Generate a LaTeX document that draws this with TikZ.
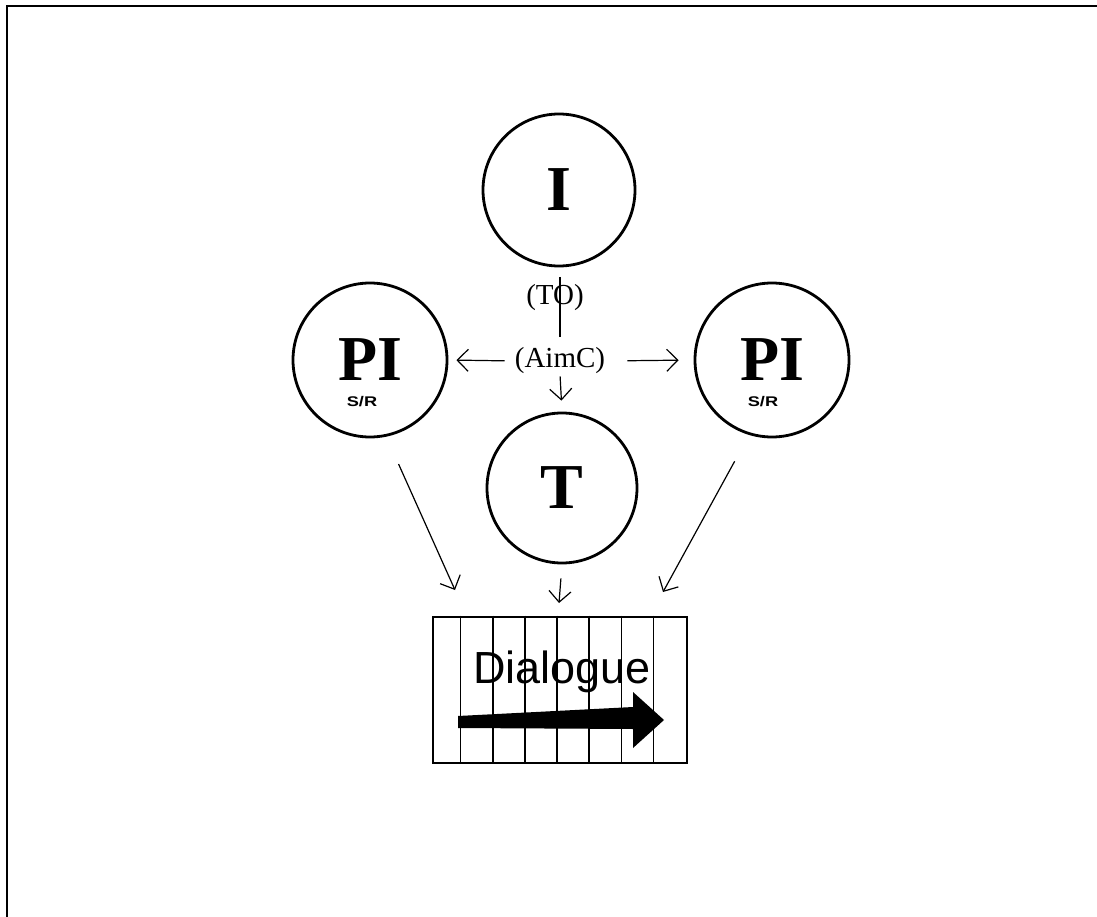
\documentclass[tikz,border=0pt]{standalone}
\usepackage{fontspec}
\setmainfont{Liberation Serif}
\newfontfamily\arialfont{Liberation Sans}
\usetikzlibrary{arrows.meta,calc}
\tikzset{
  bigcirc/.style={circle, draw, line width=2.8pt, minimum size=152pt, inner sep=0pt,
    font=\fontsize{64}{64}\selectfont\bfseries},
  sublabel/.style={inner sep=0pt, font=\arialfont\bfseries\fontsize{14}{14}\selectfont},
  midlabel/.style={inner sep=0pt, font=\fontsize{29}{29}\selectfont},
  conn/.style={line width=1.3pt},
  arr/.style={line width=1.2pt, -{Straight Barb[length=11pt,width=22pt,line width=1.2pt]}},
}
\begin{document}
\begin{tikzpicture}[x=1pt,y=-1pt]
\useasboundingbox (0,0) rectangle (1097,917);
% frame (top and left edges visible)
\draw[line width=2.2pt] (7,917) -- (7,6) -- (1097,6);

% circles
\node[bigcirc] (I) at (559,190) {I};
\node[bigcirc, minimum size=154pt] (PIL) at (370,360) {PI};
\node[bigcirc, minimum size=154pt] (PIR) at (772,360) {PI};
\node[bigcirc, minimum size=150pt] (T) at (562,488) {T};
\node[sublabel] (srL) at (362,402) {\scalebox{1.3}[1]{S/R}};
\node[sublabel] (srR) at (763,402) {\scalebox{1.3}[1]{S/R}};

% middle labels
\coordinate (toTop) at (560,277);
\coordinate (toBot) at (560,337);
\draw[conn] (toTop) -- (toBot);
\node[midlabel] (TO) at (555,298) {(TO)};
\node[midlabel] (aimc) at (560,361) {(AimC)};

% arrows from AimC
\draw[arr, shorten <=10pt, shorten >=8pt] (aimc.west) -- (PIL.east);
\draw[arr, shorten <=22pt, shorten >=15pt] (aimc.east) -- (PIR.west);
\draw[arr, shorten <=2pt, shorten >=11pt] (aimc.south) -- (T.north);

% dialogue box
\node[draw, line width=2.6pt, minimum width=254pt, minimum height=146pt, inner sep=0pt] (dlg) at (560,690) {};
\foreach \i in {1,...,7}{
  \draw[line width=1.3pt] ($(dlg.north west)!\i/8!(dlg.north east)+(-3,0)$) -- ($(dlg.south west)!\i/8!(dlg.south east)+(-3,0)$);
}
\node[anchor=base, inner sep=0pt, font=\arialfont\fontsize{45}{45}\selectfont] (dtext) at (562,683) {Dialogue};
\fill (458,716) -- (633,707) -- (633,692) -- (664,720) -- (633,748) -- (633,729) -- (458,728) -- cycle;

% arrows into dialogue
\coordinate (tipL) at (455,590);
\coordinate (tipR) at (663,592);
\coordinate (tipT) at (559,603);
\draw[arr, shorten <=30pt] (PIL.-78) -- (tipL);
\draw[arr, shorten <=30pt] (PIR.-107) -- (tipR);
\draw[arr, shorten <=14pt] (T.south) -- (tipT);
\end{tikzpicture}
\end{document}
